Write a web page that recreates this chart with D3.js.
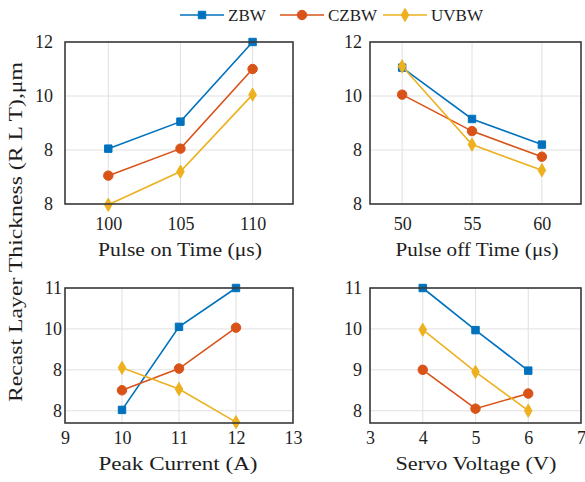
<!DOCTYPE html>
<html>
<head>
<meta charset="utf-8">
<script src="https://cdn.jsdelivr.net/npm/d3@7"></script>
<style>
  body { margin: 0; background: #fff; }
  svg, svg text { font-family: "Liberation Serif", "Times New Roman", Times, serif; }
</style>
</head>
<body>
<svg id="chart" width="585" height="482"></svg>
<script>
var seriesNames = ["ZBW", "CZBW", "UVBW"];
var colors = ["#0072BD", "#D95319", "#EDB120"];

// pulse on time
var onTimeX = [100, 105, 110];
var onTimeZBW = [8.05, 9.05, 12];
var onTimeCZBW = [7.05, 8.05, 11];
var onTimeUVBW = [5.97, 7.2, 10.05];

// pulse off time
var offTimeX = [50, 55, 60];
var offTimeZBW = [11.05, 9.15, 8.2];
var offTimeCZBW = [10.05, 8.7, 7.75];
var offTimeUVBW = [11.1, 8.2, 7.25];

// peak current
var currentX = [10, 11, 12];
var currentZBW = [8.02, 10.05, 11];
var currentCZBW = [8.5, 9.03, 10.03];
var currentUVBW = [9.05, 8.53, 7.72];

// servo voltage
var voltageX = [4, 5, 6];
var voltageZBW = [11, 9.97, 8.98];
var voltageCZBW = [9.0, 8.05, 8.42];
var voltageUVBW = [9.98, 8.95, 8.0];

var topYTicks = [6, 8, 10, 12];
var topYLabels = ["8", "8", "10", "12"];
var botYTicks = [8, 9, 10, 11];
var botYLabels = ["8", "8", "10", "11"];
var botRightYLabels = ["8", "9", "10", "11"];

var panels = [
  { left: 65, top: 42, w: 228, h: 162, xd: [97, 112.8], yd: [6, 12], xt: onTimeX,
    yt: topYTicks, yl: topYLabels, title: "Pulse on Time (\u03bcs)", tx: 180, ty: 256, tl: 164,
    xpad: 13, ypad: 12,
    x: onTimeX, ys: [onTimeZBW, onTimeCZBW, onTimeUVBW] },
  { left: 370, top: 42, w: 211, h: 162, xd: [47.7, 62.8], yd: [6, 12], xt: offTimeX,
    yt: topYTicks, yl: topYLabels, title: "Pulse off Time (\u03bcs)", tx: 477, ty: 256, tl: 163,
    xpad: 13, ypad: 8,
    x: offTimeX, ys: [offTimeZBW, offTimeCZBW, offTimeUVBW] },
  { left: 65, top: 288, w: 228, h: 135, xd: [9, 13], yd: [7.7, 11], xt: [9, 10, 11, 12, 13],
    yt: botYTicks, yl: botYLabels, title: "Peak Current (A)", tx: 178, ty: 470, tl: 159,
    xpad: 8, ypad: 3,
    x: currentX, ys: [currentZBW, currentCZBW, currentUVBW] },
  { left: 370, top: 288, w: 211, h: 135, xd: [3, 7], yd: [7.7, 11], xt: [3, 4, 5, 6, 7],
    yt: botYTicks, yl: botRightYLabels, title: "Servo Voltage (V)", tx: 476, ty: 470, tl: 161,
    xpad: 8, ypad: 8,
    x: voltageX, ys: [voltageZBW, voltageCZBW, voltageUVBW] }
];

var serif = "'Liberation Serif', 'Times New Roman', Times, serif";
var ink = "#1e1e1e";
var svg = d3.select("#chart");
var symbols = [d3.symbolSquare, d3.symbolCircle, d3.symbolDiamond];
var symSizes = [55, 70, 50];

panels.forEach(function (p) {
  var x = d3.scaleLinear().domain(p.xd).range([0, p.w]);
  var y = d3.scaleLinear().domain(p.yd).range([p.h, 0]);
  var g = svg.append("g").attr("transform", "translate(" + p.left + "," + p.top + ")");

  g.append("rect").attr("width", p.w).attr("height", p.h).attr("fill", "#fff");

  // grid
  g.selectAll(".gx").data(p.xt).enter().append("line")
    .attr("x1", function (d) { return x(d); }).attr("x2", function (d) { return x(d); })
    .attr("y1", 0).attr("y2", p.h)
    .attr("stroke", "#e0e0e0").attr("stroke-width", 1);
  g.selectAll(".gy").data(p.yt).enter().append("line")
    .attr("y1", function (d) { return y(d); }).attr("y2", function (d) { return y(d); })
    .attr("x1", 0).attr("x2", p.w)
    .attr("stroke", "#e0e0e0").attr("stroke-width", 1);

  // axes
  var xAxis = d3.axisBottom(x).tickValues(p.xt).tickSize(0).tickPadding(p.xpad).tickFormat(d3.format("d"));
  var xa = g.append("g").attr("transform", "translate(0," + p.h + ")").call(xAxis);
  xa.attr("font-family", serif);
  xa.select(".domain").remove();
  xa.selectAll("text").attr("font-size", 18).attr("fill", ink);

  var yAxis = d3.axisLeft(y).tickValues(p.yt).tickSize(0).tickPadding(p.ypad)
    .tickFormat(function (d, i) { return p.yl[i]; });
  var ya = g.append("g").call(yAxis);
  ya.attr("font-family", serif);
  ya.select(".domain").remove();
  ya.selectAll("text").attr("font-size", 18).attr("fill", ink);

  // lines + markers
  p.ys.forEach(function (vals, si) {
    var pts = p.x.map(function (xv, i) { return [xv, vals[i]]; });
    g.append("path").datum(pts)
      .attr("fill", "none").attr("stroke", colors[si]).attr("stroke-width", 1.6)
      .attr("d", d3.line().x(function (d) { return x(d[0]); }).y(function (d) { return y(d[1]); }));
    g.selectAll(".m" + si).data(pts).enter().append("path")
      .attr("transform", function (d) { return "translate(" + x(d[0]) + "," + y(d[1]) + ")"; })
      .attr("d", d3.symbol().type(symbols[si]).size(symSizes[si]))
      .attr("fill", colors[si]).attr("stroke", colors[si]);
  });

  // frame
  g.append("rect").attr("width", p.w).attr("height", p.h)
    .attr("fill", "none").attr("stroke", "#3a3a3a").attr("stroke-width", 1.6);

  svg.append("text")
    .attr("x", p.tx).attr("y", p.ty)
    .attr("text-anchor", "middle").attr("font-size", 19).attr("fill", ink)
    .attr("font-family", serif)
    .attr("textLength", p.tl).attr("lengthAdjust", "spacingAndGlyphs")
    .text(p.title);
});

svg.append("text")
  .attr("transform", "translate(22,232) rotate(-90)")
  .attr("text-anchor", "middle").attr("font-size", 19).attr("fill", ink)
  .attr("font-family", serif)
  .attr("textLength", 340).attr("lengthAdjust", "spacingAndGlyphs")
  .text("Recast Layer Thickness (R L T),\u03bcm");

// legend
var legendX = [180, 280, 383];
seriesNames.forEach(function (name, i) {
  var lg = svg.append("g").attr("transform", "translate(" + legendX[i] + ",15)");
  lg.append("line").attr("x1", 0).attr("x2", 44).attr("stroke", colors[i]).attr("stroke-width", 1.6);
  lg.append("path").attr("transform", "translate(22,0)")
    .attr("d", d3.symbol().type(symbols[i]).size(symSizes[i]))
    .attr("fill", colors[i]).attr("stroke", colors[i]);
  lg.append("text").attr("x", 48).attr("y", 6).attr("font-size", 17).attr("fill", ink)
    .attr("font-family", serif).text(name);
});
</script>
</body>
</html>
